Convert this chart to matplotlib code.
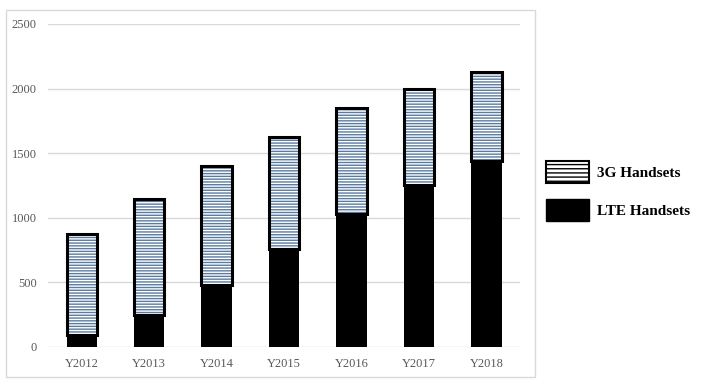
import matplotlib.pyplot as plt
from matplotlib.patches import Patch, Rectangle

# handset shipments per year
years = ['Y2012', 'Y2013', 'Y2014', 'Y2015', 'Y2016', 'Y2017', 'Y2018']
lte = [90, 250, 480, 760, 1030, 1250, 1440]
g3 = [785, 895, 920, 865, 820, 750, 690]

plt.rcParams['font.family'] = ['Liberation Serif', 'DejaVu Serif']

fig = plt.figure(figsize=(7.01, 3.84), dpi=100)
ax = fig.add_axes([0.0685, 0.0964, 0.6735, 0.8411])

x = range(len(years))
w = 0.45

# solid LTE part
ax.bar(x, lte, width=w, color='black', linewidth=0, zorder=3)
# striped 3G part, then a thick black outline on top of it
ax.bar(x, g3, width=w, bottom=lte, color='white', edgecolor='#5b7ba0',
       hatch='------', linewidth=0, zorder=3)
ax.bar(x, g3, width=w, bottom=lte, fill=False, edgecolor='black',
       linewidth=2.2, zorder=4)

ax.set_ylim(0, 2500)
ax.set_xlim(-0.5, len(years) - 0.5)
ax.set_yticks([0, 500, 1000, 1500, 2000, 2500])
ax.set_xticks(list(x))
ax.set_xticklabels(years)
ax.tick_params(length=0, labelsize=9, labelcolor='#595959', pad=8)
ax.grid(axis='y', color='#d9d9d9', linewidth=1, zorder=0)
for s in ax.spines.values():
    s.set_visible(False)

# light grey frame around the chart area
fig.patches.append(Rectangle((0.0086, 0.018), 0.7546, 0.9557,
                             transform=fig.transFigure, fill=False,
                             edgecolor='#d9d9d9', linewidth=1))

handles = [Patch(facecolor='white', edgecolor='black', hatch='----',
                 linewidth=1.5, label='3G Handsets'),
           Patch(facecolor='black', edgecolor='black', label='LTE Handsets')]
fig.legend(handles=handles, loc='upper left', bbox_to_anchor=(0.768, 0.6),
           frameon=False, prop={'weight': 'bold', 'size': 11},
           handlelength=2.8, handleheight=1.85, handletextpad=0.55,
           labelspacing=1.0, borderpad=0)

fig.savefig('out.png', dpi=100)
